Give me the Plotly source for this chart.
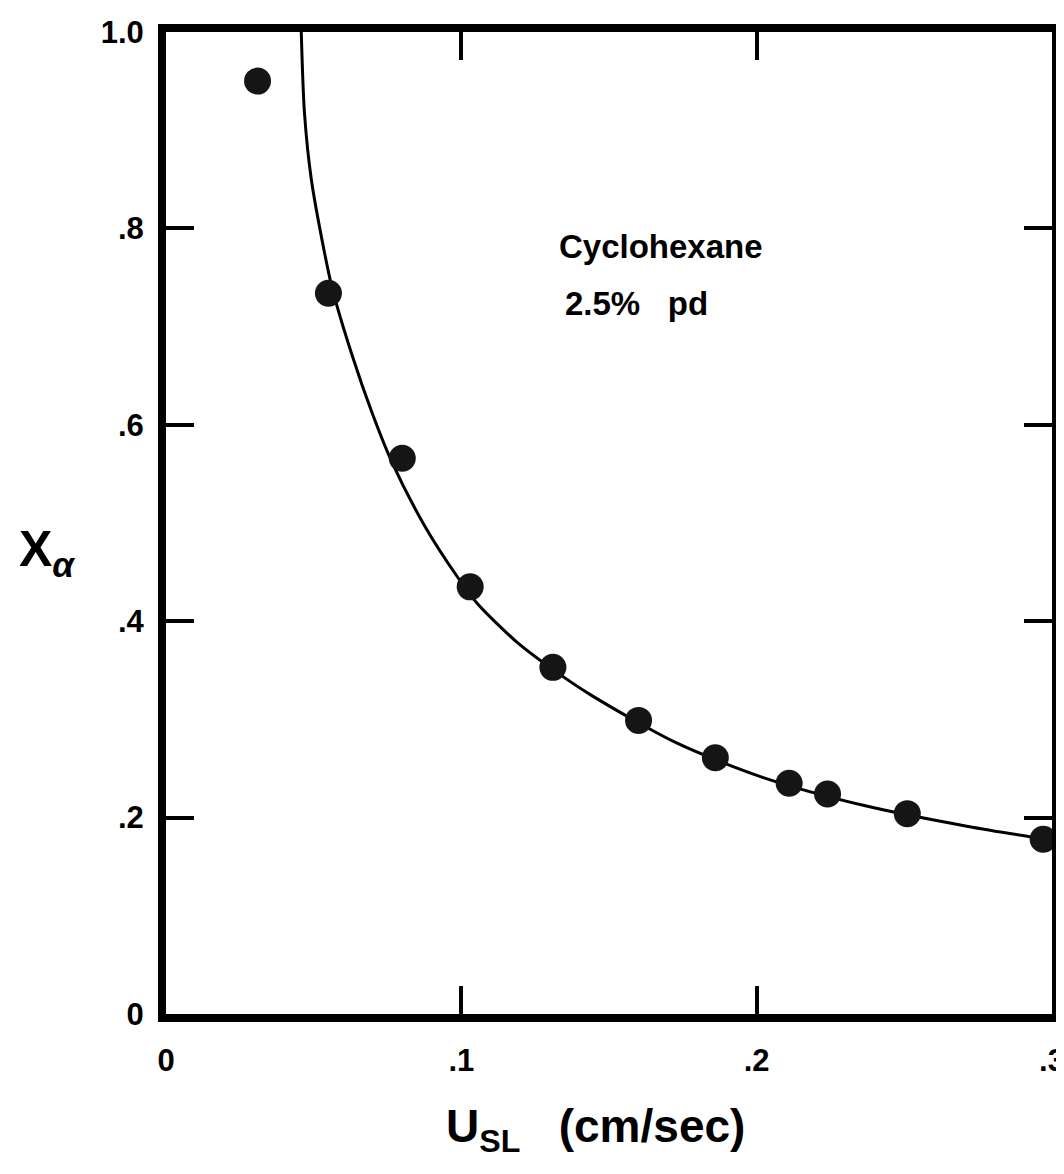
import plotly.graph_objects as go

# Measured data points (U_SL in cm/sec, X_alpha)
usl = [0.031, 0.055, 0.080, 0.103, 0.131, 0.160, 0.186, 0.211, 0.224, 0.251, 0.297]
x_alpha = [0.950, 0.734, 0.566, 0.435, 0.353, 0.299, 0.261, 0.235, 0.224, 0.204, 0.178]

# Curve
curve_x = [0.0458, 0.0469, 0.0492, 0.0531, 0.0562, 0.0631, 0.0698, 0.0765, 0.0876,
           0.0987, 0.1054, 0.1187, 0.130, 0.1438, 0.1729, 0.202, 0.2368, 0.2716, 0.300]
curve_y = [1.0, 0.917, 0.850, 0.784, 0.740, 0.670, 0.612, 0.562, 0.497,
           0.445, 0.418, 0.379, 0.353, 0.325, 0.276, 0.241, 0.212, 0.191, 0.177]

x_tickvals = [0, 0.1, 0.2, 0.3]
x_ticktext = ["0", ".1", ".2", ".3"]
y_tickvals = [0, 0.2, 0.4, 0.6, 0.8, 1.0]
y_ticktext = ["0", ".2", ".4", ".6", ".8", "1.0"]

FONT = "Liberation Sans, Arial, Helvetica, sans-serif"

fig = go.Figure()
fig.add_trace(go.Scatter(x=curve_x, y=curve_y, mode="lines",
                         line=dict(color="black", width=3, shape="spline", smoothing=0.8),
                         hoverinfo="skip", showlegend=False))
fig.add_trace(go.Scatter(x=usl, y=x_alpha, mode="markers",
                         marker=dict(color="#151515", size=27, line=dict(width=0)),
                         showlegend=False))

axis_common = dict(showline=True, linecolor="black", linewidth=8, mirror="ticks",
                   ticks="inside", ticklen=28, tickwidth=4, tickcolor="black",
                   showgrid=False, zeroline=False,
                   tickfont=dict(family=FONT, size=31, color="black", weight="bold"))

fig.update_xaxes(range=[0, 0.3], tickvals=x_tickvals, ticktext=x_ticktext,
                 ticklabelstandoff=12, **axis_common)
fig.update_yaxes(range=[0, 1.0], tickvals=y_tickvals, ticktext=y_ticktext,
                 ticklabelstandoff=8, **axis_common)

fig.add_annotation(x=0.1323, y=0.782, xref="x", yref="y",
                   text="Cyclohexane", showarrow=False,
                   xanchor="left", yanchor="middle",
                   font=dict(family=FONT, size=33, color="black", weight="bold"))
fig.add_annotation(x=0.1343, y=0.724, xref="x", yref="y",
                   text="2.5%   pd", showarrow=False,
                   xanchor="left", yanchor="middle",
                   font=dict(family=FONT, size=33, color="black", weight="bold"))

fig.add_annotation(x=0.485, y=-0.118, xref="paper", yref="paper",
                   text="U<sub>SL</sub>   (cm/sec)", showarrow=False,
                   xanchor="center", yanchor="middle",
                   font=dict(family=FONT, size=46, color="black", weight="bold"))
fig.add_annotation(x=-0.168, y=0.47, xref="paper", yref="paper",
                   text="X<sub><i>α</i></sub>", showarrow=False,
                   xanchor="left", yanchor="middle",
                   font=dict(family=FONT, size=50, color="black", weight="bold"))

fig.update_layout(width=1064, height=1174,
                  margin=dict(l=158, r=7, t=18, b=168),
                  paper_bgcolor="white", plot_bgcolor="white")

fig.write_html("out.html")
